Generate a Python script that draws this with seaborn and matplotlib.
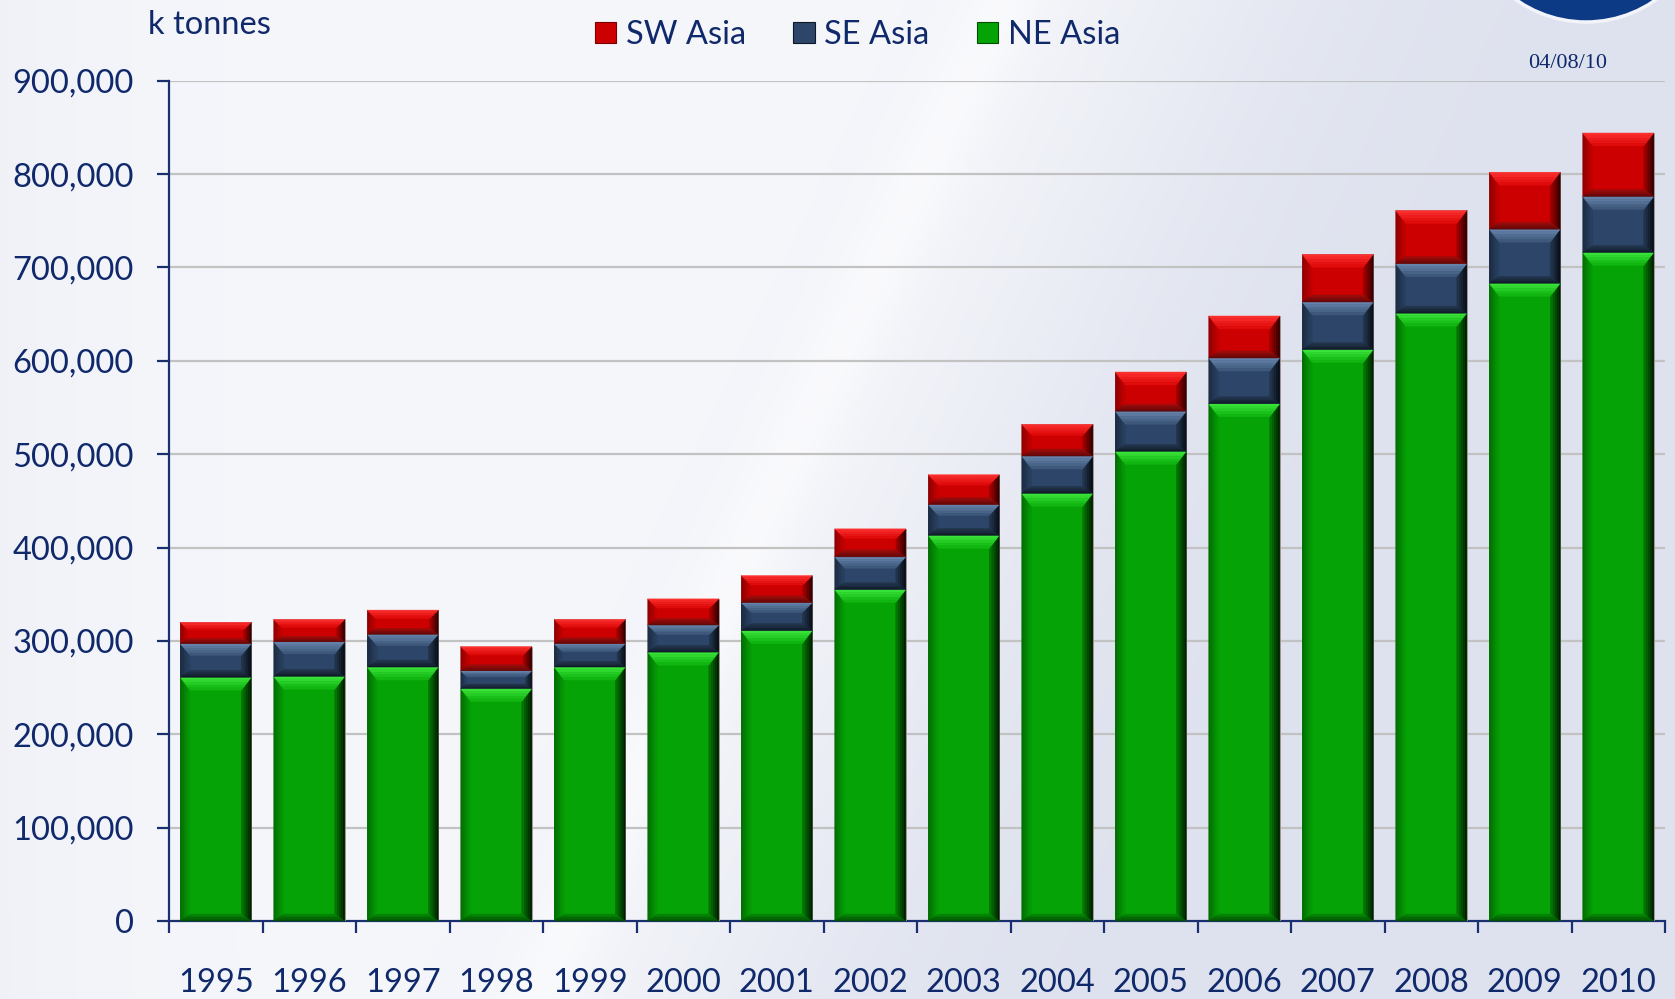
import numpy as np
import pandas as pd
import matplotlib
matplotlib.use("Agg")
import matplotlib.pyplot as plt
import seaborn as sns
from matplotlib.patches import Polygon, Circle, Patch
from matplotlib.transforms import IdentityTransform
from matplotlib.ticker import FuncFormatter, FixedLocator
from matplotlib.colors import to_rgb

# ---------------- data (k tonnes) ----------------
years = [1995, 1996, 1997, 1998, 1999, 2000, 2001, 2002,
         2003, 2004, 2005, 2006, 2007, 2008, 2009, 2010]
ne_asia = [261000, 262000, 272000, 249000, 272000, 288000, 311000, 355000,
           413000, 458000, 503000, 554000, 612000, 651000, 683000, 716000]
se_asia = [36000, 37000, 35000, 19000, 25000, 29000, 30000, 35000,
           33000, 40000, 43000, 49000, 51000, 53000, 58000, 60000]
sw_asia = [23000, 24000, 26000, 26000, 26000, 28000, 29000, 30000,
           32000, 34000, 42000, 45000, 51000, 57000, 61000, 68000]
series_labels = ["SW Asia", "SE Asia", "NE Asia"]
y_ticks = [0, 100000, 200000, 300000, 400000, 500000, 600000, 700000, 800000, 900000]
unit_label = "k tonnes"
date_label = "04/08/10"

# ---------------- style ----------------
sns.set_theme(style="white")
plt.rcParams['font.family'] = ['Lato', 'DejaVu Sans']
NAVY_TXT = "#10296b"
RED, NAVY, GREEN = "#cc0000", "#2c4568", "#05a305"
# (outer, inner) colours of each bevel side
BEVEL = {
    RED:   dict(top=("#ff3434", "#dc0606"), right=("#250000", "#a80000"),
                left=("#8a0000", "#c60000"), bottom=("#5a0808", "#a00c0c")),
    NAVY:  dict(top=("#6a88b0", "#3a5476"), right=("#050a12", "#24374f"),
                left=("#1a2a40", "#2a4262"), bottom=("#0f1826", "#24374f")),
    GREEN: dict(top=("#3ee83e", "#0cb00c"), right=("#001600", "#047c04"),
                left=("#036803", "#05a005"), bottom=("#024a02", "#048a04")),
}

W, H = 1675, 999
fig = plt.figure(figsize=(W / 100, H / 100), dpi=100)

# background gradient
bg = fig.add_axes([0, 0, 1, 1], zorder=-10)
yy, xx = np.mgrid[0:1:300j, 0:1:500j]   # yy: 0 top -> 1 bottom
d = xx + 0.28 * yy
s = 1 / (1 + np.exp(-(d - 0.72) / 0.06))
left_tint = np.exp(-xx / 0.08) * 0.35
c_white = np.array([246, 247, 251]) / 255
c_blue = np.array([222, 226, 238]) / 255
img = c_white[None, None, :] * (1 - s[..., None]) + c_blue[None, None, :] * s[..., None]
img = img * (1 - left_tint[..., None]) + (np.array([228, 232, 242]) / 255)[None, None, :] * left_tint[..., None]
streak = np.exp(-((d - 0.60) / 0.025) ** 2) * 0.5
img = img * (1 - streak[..., None]) + np.array([1.0, 1.0, 1.0])[None, None, :] * streak[..., None]
bg.imshow(np.clip(img, 0, 1), aspect="auto", extent=[0, 1, 0, 1], origin="upper")
bg.set_axis_off()

ax = fig.add_axes([169 / W, 1 - 921 / H, (1665 - 169) / W, (921 - 80.7) / H])
ax.set_facecolor("none")

df = pd.DataFrame({
    "Year": [str(y) for y in years],
    "NE": ne_asia, "SE": se_asia, "SW": sw_asia,
})
df["mid"] = df["NE"] + df["SE"]
df["top"] = df["mid"] + df["SW"]

bw = 0.76
sns.barplot(data=df, x="Year", y="top", color=RED, saturation=1, width=bw, ax=ax, zorder=3,
            edgecolor="#9a9a9a", linewidth=0.6)
sns.barplot(data=df, x="Year", y="mid", color=NAVY, saturation=1, width=bw, ax=ax, zorder=3,
            edgecolor="none", linewidth=0)
sns.barplot(data=df, x="Year", y="NE", color=GREEN, saturation=1, width=bw, ax=ax, zorder=3,
            edgecolor="none", linewidth=0)

ax.set_xlim(-0.5, len(years) - 0.5)
ax.set_ylim(0, 900000)
ax.set_xlabel("")
ax.set_ylabel("")

# grid
for v in y_ticks[1:]:
    ax.axhline(v, color="#c2c2c2", lw=1.6, zorder=1)

# spines
for sp in ["top", "right"]:
    ax.spines[sp].set_visible(False)
for sp in ["left", "bottom"]:
    ax.spines[sp].set_color("#1a2f70")
    ax.spines[sp].set_linewidth(1.6)

ax.yaxis.set_major_locator(FixedLocator(y_ticks))
ax.yaxis.set_major_formatter(FuncFormatter(lambda v, p: f"{v:,.0f}"))
ax.tick_params(axis="y", which="major", direction="out", length=8.5, width=1.6,
               color="#1a2f70", pad=17, labelsize=23.5, labelcolor=NAVY_TXT, left=True)

ax.set_xticks(np.arange(-0.5, len(years), 1.0))
ax.set_xticklabels([""] * (len(years) + 1))
ax.set_xticks(np.arange(len(years)), minor=True)
ax.set_xticklabels([str(y) for y in years], minor=True)
ax.tick_params(axis="x", which="major", direction="out", length=8.5, width=1.6,
               color="#1a2f70", bottom=True)
ax.tick_params(axis="x", which="minor", length=0, pad=34, labelsize=23.5,
               labelcolor=NAVY_TXT, bottom=True)


def mix(c1, c2, t):
    a, b = np.array(to_rgb(c1)), np.array(to_rgb(c2))
    return tuple(a * (1 - t) + b * t)


# bevel decoration on each stacked segment (derived from the drawn bar patches)
fig.canvas.draw()
n = len(years)
patches = ax.patches
red_p, navy_p, green_p = patches[0:n], patches[n:2 * n], patches[2 * n:3 * n]
trans = ax.transData
K = 5
for i in range(n):
    segs = [(green_p[i], 0.0, GREEN), (navy_p[i], green_p[i].get_height(), NAVY),
            (red_p[i], navy_p[i].get_height(), RED)]
    for p, base, col in segs:
        (X0, Y0) = trans.transform((p.get_x(), base))
        (X1, Y1) = trans.transform((p.get_x() + p.get_width(), p.get_height()))
        h = Y1 - Y0
        bt = min(13, h * 0.35)
        bs = min(10, h * 0.35)
        bb = min(7, h * 0.25)
        b = BEVEL[col]

        def corner(name, t):
            # inner corners move inward by fraction t of bevel depth
            if name == "BL":
                return (X0 + bs * t, Y0 + bb * t)
            if name == "BR":
                return (X1 - bs * t, Y0 + bb * t)
            if name == "TL":
                return (X0 + bs * t, Y1 - bt * t)
            return (X1 - bs * t, Y1 - bt * t)

        sides = {"left": ("BL", "TL"), "right": ("BR", "TR"),
                 "bottom": ("BL", "BR"), "top": ("TL", "TR")}
        for side in ["left", "right", "bottom", "top"]:
            c_a, c_b = sides[side]
            outer, inner = b[side]
            for k in range(K):
                t0, t1 = k / K, (k + 1) / K
                pts = [corner(c_a, t0), corner(c_b, t0), corner(c_b, t1), corner(c_a, t1)]
                c = mix(outer, inner, (k + 0.5) / K)
                fig.patches.append(Polygon(pts, closed=True, facecolor=c, edgecolor=c,
                                           linewidth=0.3, transform=IdentityTransform(),
                                           figure=fig, zorder=5))

# legend
handles = [Patch(facecolor=RED, edgecolor="#7a0000", linewidth=0.8),
           Patch(facecolor=NAVY, edgecolor="#0f1826", linewidth=0.8),
           Patch(facecolor=GREEN, edgecolor="#025002", linewidth=0.8)]
fig.legend(handles, series_labels, loc="center", bbox_to_anchor=(0.512, 1 - 35 / H), ncol=3,
           frameon=False, fontsize=23.5, handlelength=0.65, handleheight=0.65,
           handletextpad=0.3, columnspacing=1.45, labelcolor=NAVY_TXT)

fig.text(148 / W, 1 - 25 / H, unit_label, fontsize=23.5, color=NAVY_TXT, ha="left", va="center")
fig.text(1568 / W, 1 - 64 / H, date_label, fontsize=16, color=NAVY_TXT, ha="center",
         va="center", family=["Liberation Serif", "DejaVu Serif"])

# logo fragment at top right
fig.patches.append(Circle((1586, H + 99), 121, facecolor="#0d3a85", edgecolor="#f2f4fa",
                          linewidth=2.5, transform=IdentityTransform(), figure=fig, zorder=2))

fig.savefig("out.png", dpi=100)
